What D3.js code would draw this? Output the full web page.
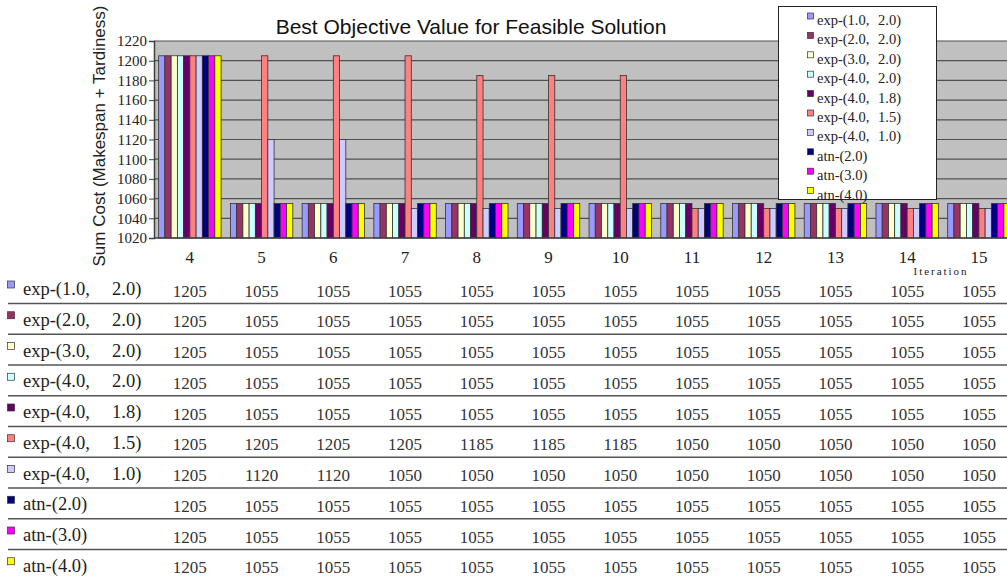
<!DOCTYPE html>
<html><head><meta charset="utf-8">
<script src="https://cdn.jsdelivr.net/npm/d3@7"></script>
<style>body{margin:0;background:#fff}svg{display:block}text{white-space:pre}
.sf{font-family:"Liberation Serif","Times New Roman","DejaVu Serif",serif}
.ss{font-family:"Liberation Sans",Arial,"DejaVu Sans",sans-serif}
</style>
</head><body><svg id="c" width="1007" height="576"></svg>
<script>
const categories = ["4","5","6","7","8","9","10","11","12","13","14","15"];
const seriesNames = ["exp-(1.0,  2.0)","exp-(2.0,  2.0)","exp-(3.0,  2.0)","exp-(4.0,  2.0)","exp-(4.0,  1.8)","exp-(4.0,  1.5)","exp-(4.0,  1.0)","atn-(2.0)","atn-(3.0)","atn-(4.0)"];
const seriesColors = ["#9999FF","#993366","#FFFFCC","#CCFFFF","#660066","#FF8080","#CCCCFF","#000080","#FF00FF","#FFFF00"];
const exp10_20 = [1205,1055,1055,1055,1055,1055,1055,1055,1055,1055,1055,1055];
const exp20_20 = [1205,1055,1055,1055,1055,1055,1055,1055,1055,1055,1055,1055];
const exp30_20 = [1205,1055,1055,1055,1055,1055,1055,1055,1055,1055,1055,1055];
const exp40_20 = [1205,1055,1055,1055,1055,1055,1055,1055,1055,1055,1055,1055];
const exp40_18 = [1205,1055,1055,1055,1055,1055,1055,1055,1055,1055,1055,1055];
const exp40_15 = [1205,1205,1205,1205,1185,1185,1185,1050,1050,1050,1050,1050];
const exp40_10 = [1205,1120,1120,1050,1050,1050,1050,1050,1050,1050,1050,1050];
const atn20 = [1205,1055,1055,1055,1055,1055,1055,1055,1055,1055,1055,1055];
const atn30 = [1205,1055,1055,1055,1055,1055,1055,1055,1055,1055,1055,1055];
const atn40 = [1205,1055,1055,1055,1055,1055,1055,1055,1055,1055,1055,1055];
const yTicks = [1020,1040,1060,1080,1100,1120,1140,1160,1180,1200,1220];
const titleText = "Best Objective Value for Feasible Solution";
const yLabelText = "Sum Cost (Makespan + Tardiness)";
const xLabelText = "Iteration";

const seriesValues = [exp10_20,exp20_20,exp30_20,exp40_20,exp40_18,exp40_15,exp40_10,atn20,atn30,atn40];

const svg = d3.select("#c");
const plotLeft = 154, plotTop = 41, plotBottom = 238;
const step = 71.73;
const x0 = d3.scaleBand().domain(categories).range([plotLeft, plotLeft + step*categories.length]).paddingInner(0.13).paddingOuter(0.065);
const x1 = d3.scaleBand().domain(d3.range(seriesNames.length)).range([0, x0.bandwidth()]);
const y = d3.scaleLinear().domain([1020,1220]).range([plotBottom, plotTop]);

// plot background
svg.append("rect").attr("x", plotLeft).attr("y", plotTop).attr("width", 1007-plotLeft).attr("height", plotBottom-plotTop).attr("fill", "#C0C0C0");
// gridlines
svg.append("g").selectAll("line").data(yTicks.slice(1)).join("line")
  .attr("x1", plotLeft).attr("x2", 1007).attr("y1", d=>y(d)).attr("y2", d=>y(d))
  .attr("stroke", "#505050").attr("stroke-width", 1.2);

// bars
const g = svg.append("g");
categories.forEach((c, ci) => {
  seriesValues.forEach((vals, si) => {
    g.append("rect")
      .attr("x", x0(c) + x1(si)).attr("width", x1.bandwidth())
      .attr("y", y(vals[ci])).attr("height", y(1020) - y(vals[ci]))
      .attr("fill", seriesColors[si]).attr("stroke", "#333").attr("stroke-width", 0.8);
  });
});

// y axis
const yAxis = svg.append("g").attr("transform", `translate(${plotLeft},0)`)
  .call(d3.axisLeft(y).tickValues(yTicks).tickSize(5).tickPadding(2).tickFormat(d3.format("d")));
yAxis.attr("font-family", null);
yAxis.select(".domain").attr("stroke", "#404040").attr("stroke-width", 1.5);
yAxis.selectAll(".tick line").attr("stroke", "#404040");
yAxis.selectAll("text").attr("class", "sf").attr("font-size", 15).attr("fill", "#222");
// bottom axis line
svg.append("line").attr("x1", plotLeft).attr("x2", 1007).attr("y1", plotBottom).attr("y2", plotBottom).attr("stroke", "#404040").attr("stroke-width", 1.5);

// category labels
svg.append("g").selectAll("text").data(categories).join("text")
  .attr("class", "sf")
  .attr("x", d => x0(d) + x0.bandwidth()/2).attr("y", 263)
  .attr("text-anchor", "middle").attr("font-size", 17).attr("fill", "#222")
  .text(d => d);

svg.append("text").attr("class", "sf").attr("x", 940).attr("y", 275).attr("text-anchor", "middle")
  .attr("font-size", 11).attr("textLength", 53).attr("fill", "#222").text(xLabelText);

// title
svg.append("text").attr("class", "ss").attr("x", 471).attr("y", 34).attr("text-anchor", "middle")
  .attr("font-size", 21).attr("fill", "#111").text(titleText);

// y label
svg.append("text").attr("class", "ss").attr("transform", "translate(105,136) rotate(-90)").attr("text-anchor", "middle")
  .attr("font-size", 17).attr("fill", "#222").text(yLabelText);

// helper: label with second number pushed to a column
function addLabel(sel, n, x, yb, size, gap) {
  const parts = n.split(/\s{2,}/);
  const t = sel.append("text").attr("class", "sf").attr("y", yb).attr("font-size", size).attr("fill", "#222");
  t.append("tspan").attr("x", x).text(parts[0]);
  if (parts[1]) t.append("tspan").attr("x", x + gap).text(parts[1]);
}

// legend
svg.append("rect").attr("x", 778.5).attr("y", 6.5).attr("width", 158).attr("height", 193)
  .attr("fill", "#fff").attr("stroke", "#222").attr("stroke-width", 1);
const lg = svg.append("g");
seriesNames.forEach((n, i) => {
  const yy = 13 + i*19.4;
  lg.append("rect").attr("x", 807.5).attr("y", yy).attr("width", 6).attr("height", 6)
    .attr("fill", seriesColors[i]).attr("stroke", "#333").attr("stroke-width", 0.7);
  addLabel(lg, n, 817, yy + 12, 14.5, 61);
});

// data table
const tg = svg.append("g");
seriesNames.forEach((n, i) => {
  const base = 295 + i*30.75;
  tg.append("rect").attr("x", 7.5).attr("y", base - 14).attr("width", 7).attr("height", 7)
    .attr("fill", seriesColors[i]).attr("stroke", "#333").attr("stroke-width", 0.7);
  addLabel(tg, n, 23, base, 18.5, 89);
  categories.forEach((c, ci) => {
    tg.append("text").attr("class", "sf").attr("x", x0(c) + x0.bandwidth()/2).attr("y", base + 1.5).attr("text-anchor", "middle")
      .attr("font-size", 17).attr("fill", "#333").text(seriesValues[i][ci]);
  });
  if (i < seriesNames.length - 1) {
    tg.append("line").attr("x1", 8).attr("x2", 1007).attr("y1", base + 8.5).attr("y2", base + 8.5)
      .attr("stroke", "#555").attr("stroke-width", 1.5);
  }
});
</script></body></html>
